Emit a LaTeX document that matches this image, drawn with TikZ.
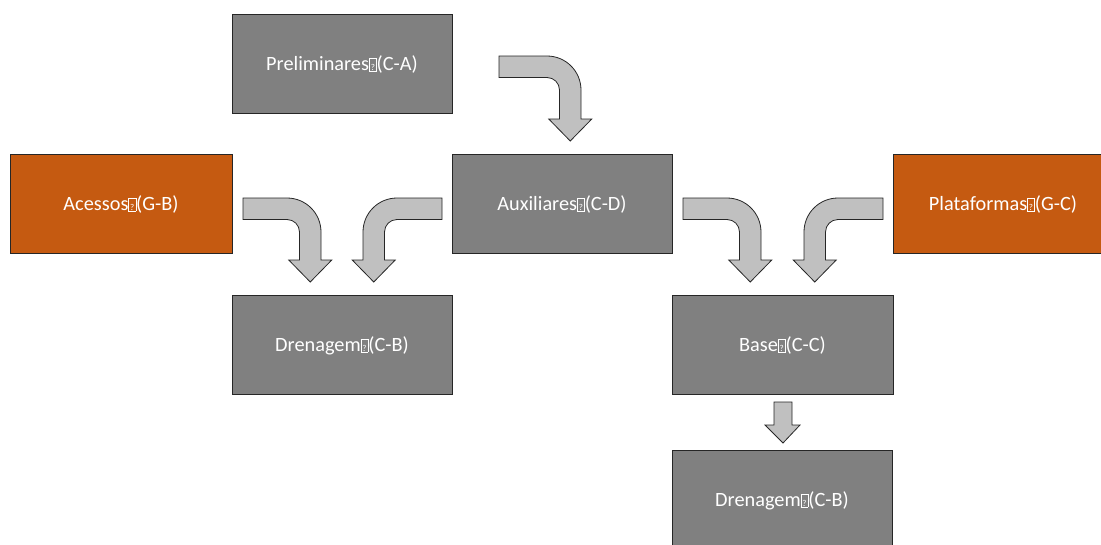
\documentclass[tikz,border=0pt]{standalone}
\usepackage{fontspec}
\setmainfont{Carlito}
\definecolor{boxgray}{HTML}{808080}
\definecolor{boxorange}{HTML}{C55A11}
\definecolor{arrowfill}{HTML}{C0C0C0}
\definecolor{edgedark}{HTML}{262626}
\newcommand{\missingglyph}{{\setlength{\fboxsep}{0pt}\setlength{\fboxrule}{0.5pt}\fbox{\rule{0pt}{0.62em}\makebox[0.33em]{\fontsize{9}{9}\selectfont ?}}}}
% bent block arrow: #1 x0, #2 y0, #3 width, #4 height, #5 xscale
\newcommand{\bentarrow}[5]{%
  \draw[blockarrow, shift={(#1,#2)}, xscale=#5]
    (0,0) -- ({#3-34},0) arc[start angle=-90, end angle=0, radius=34]
    -- (#3,#4) -- ({#3-10.75+21.5},#4) -- ({#3-10.75},{#4+22})
    -- ({#3-10.75-21.5},#4) -- ({#3-21.5},#4) -- ({#3-21.5},34)
    arc[start angle=0, end angle=-90, radius=12.5] -- (0,21.5) -- cycle;}
\begin{document}
\begin{tikzpicture}[x=1pt,y=-1pt,
  box/.style={draw=edgedark, line width=0.9pt, minimum width=220pt, minimum height=99pt,
    inner sep=0pt, text depth=0pt, text=white, font=\fontsize{20.3}{24}\selectfont},
  graybox/.style={box, fill=boxgray},
  orangebox/.style={box, fill=boxorange},
  blockarrow/.style={draw=edgedark, line width=0.8pt, fill=arrowfill, line join=miter}]
\useasboundingbox (0,0) rectangle (1101,544);
\node[graybox] (prelim) at (342,63.5) {Preliminares\missingglyph(C-A)};
\node[orangebox, minimum width=222pt] (acessos) at (121,203.5) {Acessos\missingglyph(G-B)};
\node[graybox] (aux) at (562,203.5) {Auxiliares\missingglyph(C-D)};
\node[orangebox] (plat) at (1003,203.5) {Plataformas\missingglyph(G-C)};
\node[graybox] (dren1) at (342,344.5) {Drenagem\missingglyph(C-B)};
\node[graybox, minimum width=221pt] (base) at (782.5,344.5) {Base\missingglyph(C-C)};
\node[graybox] (dren2) at (782,499.5) {Drenagem\missingglyph(C-B)};
\bentarrow{499}{56}{82}{63}{1}
\bentarrow{243}{198}{78}{62}{1}
\bentarrow{442}{198}{79}{62}{-1}
\bentarrow{683}{198}{78}{62}{1}
\bentarrow{883}{198}{79}{62}{-1}
\draw[blockarrow] (774,402) -- (792,402) -- (792,425) -- (800,425) -- (783,443)
  -- (765,425) -- (774,425) -- cycle;
\end{tikzpicture}
\end{document}
